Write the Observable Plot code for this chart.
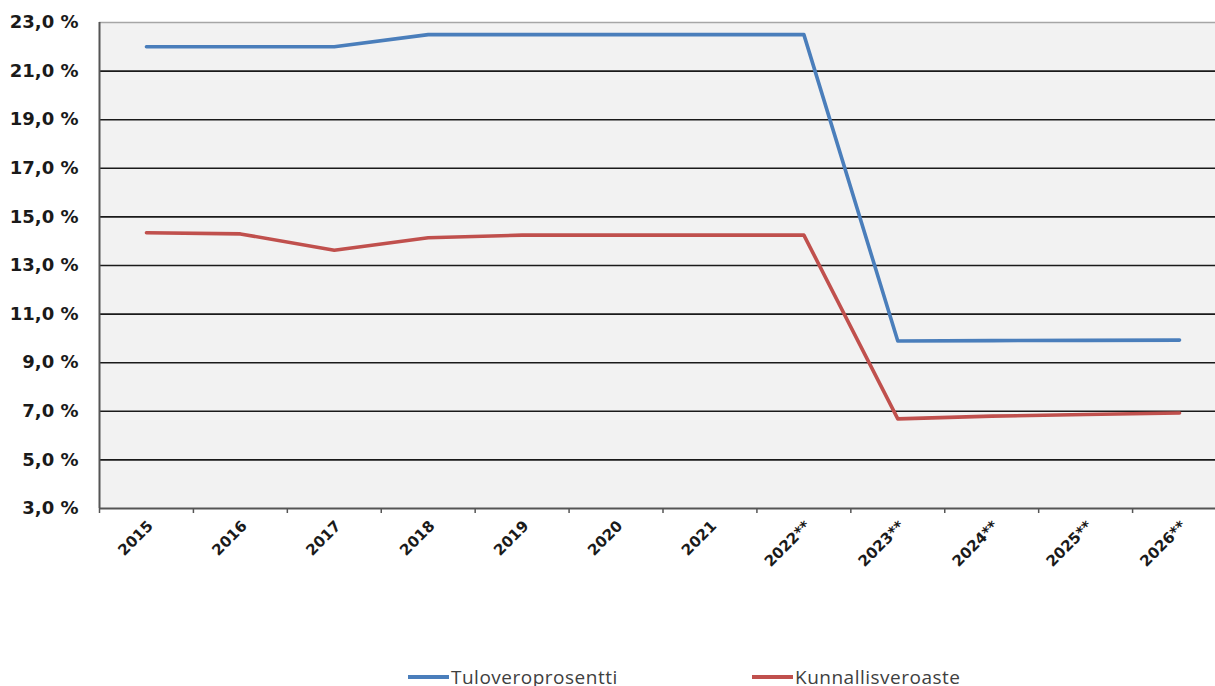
<!DOCTYPE html>
<html>
<head>
<meta charset="utf-8">
<script src="https://cdn.jsdelivr.net/npm/d3@7"></script>
<script src="https://cdn.jsdelivr.net/npm/@observablehq/plot@0.6"></script>
<style>
  html, body { margin: 0; padding: 0; background: #fff; }
  #wrap { position: relative; width: 1215px; height: 686px; overflow: hidden; }
  #legend { position: absolute; left: 0; top: 664px; width: 1215px; height: 26px;
    font-family: "Open Sans", sans-serif; font-size: 19px; letter-spacing: 0.5px; color: #404040; }
  .item { position: absolute; top: 0; display: flex; align-items: center; height: 26px; white-space: nowrap; }
  .swatch { display: inline-block; width: 41px; height: 4px; margin-right: 2px; }
</style>
</head>
<body>
<div id="wrap">
  <div id="chart"></div>
  <div id="legend"></div>
</div>
<script>
const years = ["2015","2016","2017","2018","2019","2020","2021","2022**","2023**","2024**","2025**","2026**"];
const tuloveroprosentti = [22.0, 22.0, 22.0, 22.5, 22.5, 22.5, 22.5, 22.5, 9.89, 9.91, 9.92, 9.93];
const kunnallisveroaste = [14.35, 14.3, 13.63, 14.14, 14.25, 14.25, 14.25, 14.25, 6.69, 6.8, 6.87, 6.93];
const yTicks = [3, 5, 7, 9, 11, 13, 15, 17, 19, 21, 23];
const seriesNames = ["Tuloveroprosentti", "Kunnallisveroaste"];
const seriesColors = ["#4a7ebb", "#c0504d"];

const rows = [];
years.forEach((y, i) => {
  rows.push({i, year: y, series: seriesNames[0], value: tuloveroprosentti[i]});
  rows.push({i, year: y, series: seriesNames[1], value: kunnallisveroaste[i]});
});
const centers = years.map((_, i) => i + 0.5);
const bounds = d3.range(years.length + 1);
const fmt = d => d.toFixed(1).replace(".", ",") + " %";

const chart = Plot.plot({
  width: 1215,
  height: 658,
  marginLeft: 99,
  marginRight: 0,
  marginTop: 22,
  marginBottom: 150,
  style: {fontFamily: "'DejaVu Sans', sans-serif", fontWeight: "bold", color: "#1a1a1a", background: "#fff", overflow: "hidden"},
  x: {type: "linear", domain: [0, years.length], range: [99, 1226], axis: null},
  y: {domain: [3, 23], axis: null},
  color: {domain: seriesNames, range: seriesColors},
  marks: [
    Plot.frame({fill: "#f2f2f2", stroke: "none"}),
    Plot.ruleY([23], {stroke: "#a6a6a6", strokeWidth: 1.5}),
    Plot.ruleY(yTicks.filter(d => d > 3 && d < 23), {stroke: "#1a1a1a", strokeWidth: 1.6}),
    Plot.line(rows, {x: d => d.i + 0.5, y: "value", z: "series", stroke: "series", strokeWidth: 3.6}),
    Plot.ruleX([0], {stroke: "#555", strokeWidth: 2}),
    Plot.ruleY([3], {stroke: "#555", strokeWidth: 2}),
    Plot.axisY(yTicks, {anchor: "left", label: null, tickSize: 0, tickPadding: 21, tickFormat: fmt, fontSize: 18, fontWeight: "bold"}),
    Plot.axisX(bounds, {anchor: "bottom", label: null, tickSize: 5, tickFormat: () => "", stroke: "#555", strokeWidth: 1.5}),
    Plot.axisX(centers, {anchor: "bottom", label: null, tickSize: 0, tickPadding: 15, dx: 4, tickRotate: -45,
      tickFormat: d => years[Math.floor(d)], fontSize: 15, fontWeight: "bold"})
  ]
});
document.getElementById("chart").appendChild(chart);

const legend = document.getElementById("legend");
const lefts = [408, 752];
seriesNames.forEach((name, k) => {
  const item = document.createElement("div");
  item.className = "item";
  item.style.left = lefts[k] + "px";
  const sw = document.createElement("span");
  sw.className = "swatch";
  sw.style.background = seriesColors[k];
  const label = document.createElement("span");
  label.textContent = name;
  item.appendChild(sw);
  item.appendChild(label);
  legend.appendChild(item);
});
</script>
</body>
</html>
